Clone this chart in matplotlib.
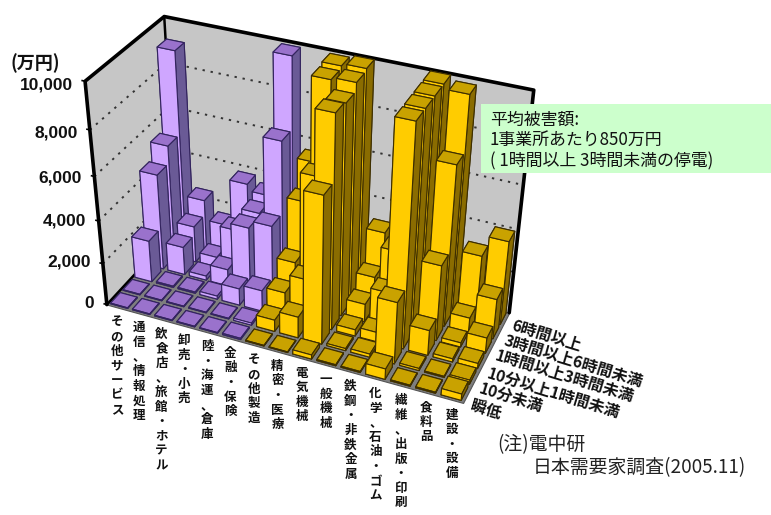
import numpy as np
import matplotlib
matplotlib.use('Agg')
import matplotlib.pyplot as plt
from matplotlib.patches import Rectangle
from mpl_toolkits.mplot3d import proj3d
from mpl_toolkits.mplot3d.art3d import Poly3DCollection

W, H = 771, 515
JP = ['Noto Sans CJK JP', 'DejaVu Sans']
plt.rcParams['font.family'] = JP

categories = ['その他サービス', '通信、情報処理', '飲食店、旅館・ホテル', '卸売・小売', '陸・海運、倉庫',
              '金融・保険', 'その他製造', '精密・医療', '電気機械', '一般機械',
              '鉄鋼・非鉄金属', '化学、石油・ゴム', '繊維、出版・印刷', '食料品', '建設・設備']
durations = ['瞬低', '10分未満', '10分以上1時間未満', '1時間以上3時間未満', '3時間以上6時間未満', '6時間以上']

# 万円, one list per outage duration, front row to back row
v_dip = [30, 30, 30, 30, 30, 60, 30, 30, 200, 50, 50, 500, 50, 50, 300]
v_10m = [30, 30, 30, 30, 30, 100, 550, 1000, 6800, 100, 150, 2900, 100, 50, 200]
v_1h = [2000, 60, 60, 150, 800, 1000, 1200, 2100, 9650, 300, 450, 10000, 1200, 150, 250]
v_3h = [4550, 1350, 200, 800, 3100, 3450, 2000, 6200, 9550, 850, 1700, 10000, 3550, 200, 750]
v_6h = [5350, 1750, 500, 2100, 3200, 6750, 4250, 9800, 9900, 1500, 3000, 10000, 7400, 700, 1900]
v_long = [9100, 2450, 1500, 3750, 3450, 9900, 5500, 9900, 10000, 3000, 1500, 10000, 9800, 3000, 3950]
rows = [v_dip, v_10m, v_1h, v_3h, v_6h, v_long]

yticks = [0, 2000, 4000, 6000, 8000, 10000]
n_purple = 6

# bar3d face order: bottom, top, front, back, left, right
purple = ['#6a5a96', '#9a72cc', '#cfa6ff', '#6a5a96', '#6a5a96', '#6a5a96']
yellow = ['#8a6c00', '#c9a200', '#ffcc00', '#8a6c00', '#8a6c00', '#8a6c00']

# box corners in the picture (pixels), used to fit the camera
box3d = np.array([[0, 0, 0], [15, 0, 0], [15, 6, 0], [0, 6, 0],
                  [0, 0, 1], [0, 6, 1], [15, 6, 1]], float)
box2d = np.array([[107, 302], [463, 405], [510, 310], [176, 232],
                  [85, 82], [165, 15], [533, 91]], float)


def fit_camera(xl, yl):
    a = []
    for (x, y, z), (u, v) in zip(box3d / [15, 6, 1], box2d):
        u = xl[0] + u / W * (xl[1] - xl[0])
        v = yl[1] - v / H * (yl[1] - yl[0])
        a.append([x, y, z, 1, 0, 0, 0, 0, -u * x, -u * y, -u * z, -u])
        a.append([0, 0, 0, 0, x, y, z, 1, -v * x, -v * y, -v * z, -v])
    p = np.linalg.svd(np.array(a))[2][-1].reshape(3, 4)
    p = p @ np.diag([1 / 15, 1 / 6, 1 / 10000, 1])
    if p[2] @ [7.5, 3, 0, 1] < 0:
        p = -p
    p = p / (p[2] @ [7.5, 3, 0, 1])
    return np.array([p[0], p[1], [0, 0, 0, -1], p[2]])


fig = plt.figure(figsize=(W / 100, H / 100), dpi=100)
ax = fig.add_axes([0, 0, 1, 1], projection='3d', computed_zorder=False)
ax.set_axis_off()
ax.apply_aspect = lambda position=None: None
M = fit_camera(ax.viewLim.intervalx, ax.viewLim.intervaly)
ax.get_proj = lambda: M

# walls and floor
top = yticks[-1]
walls = [[(0, 0, 0), (0, 6, 0), (0, 6, top), (0, 0, top)],
         [(0, 6, 0), (15, 6, 0), (15, 6, top), (0, 6, top)]]
ax.add_collection3d(Poly3DCollection(walls, facecolors='#c6c6c6', edgecolors='none', zorder=0.1))
floor = [[(0, 0, 0), (15, 0, 0), (15, 6, 0), (0, 6, 0)]]
ax.add_collection3d(Poly3DCollection(floor, facecolors='#7e7e7e', edgecolors='#555555',
                                     linewidths=0.8, zorder=0.2))

for t in yticks[1:-1]:
    ax.plot([0, 0, 15], [0, 6, 6], [t, t, t], color='#333333', ls=(0, (1.2, 3)), lw=1.4, zorder=0.5)

for xs, ys, zs, lw in [([0, 0, 0, 15, 15], [0, 0, 6, 6, 6], [0, top, top, top, 0], 2.6),
                       ([0, 0], [6, 6], [top, 0], 1.8),
                       ([0, 0], [0, 6], [0, 0], 1.8)]:
    ax.plot(xs, ys, zs, color='black', lw=lw, zorder=0.6, solid_capstyle='round')
for t in yticks:
    ax.plot([-0.12, 0], [0, 0], [t, t], color='black', lw=1.2, zorder=0.6)

# bars, back row first and left to right so nearer ones paint over
for r in range(len(rows) - 1, -1, -1):
    for c, val in enumerate(rows[r]):
        cols = purple if c < n_purple else yellow
        edge = '#33245e' if c < n_purple else '#3d2e00'
        ax.bar3d(c + 0.11, r + 0.11, 0, 0.78, 0.78, val, color=cols, shade=False,
                 edgecolor=edge, linewidth=0.8, zorder=1)

# stacked labels hang under the front edge of the floor
for i, name in enumerate(categories):
    px, py, _ = proj3d.proj_transform(i + 0.72, -0.45, 0, M)
    ax.text2D(px, py, '\n'.join(name), transform=ax.transData, ha='center', va='top', fontsize=9,
              fontweight='bold', linespacing=1.16, color='#111111', zorder=3)


def put(x, y, s, **kw):
    return fig.text(x / W, 1 - y / H, s, **kw)


tick_pos = [(94, 303), (91, 262), (86, 221), (82, 178), (78, 133), (73, 85)]
for (x, y), t in zip(tick_pos, yticks):
    put(x, y, f'{t:,}', ha='right', va='center', fontsize=12.5, fontweight='bold',
        family='Liberation Sans', color='#111111')

put(10, 63, '(万円)', ha='left', va='center', fontsize=13, fontweight='bold', color='#111111')

depth_pos = [(471, 405), (480, 388), (488, 373), (496, 355), (504, 340), (512, 325)]
for (x, y), name in zip(depth_pos, durations):
    put(x, y, name, ha='left', va='center', rotation=-17, rotation_mode='anchor', fontsize=11.3,
        fontweight='bold', color='#111111')

fig.add_artist(Rectangle((481 / W, 1 - 173 / H), 290 / W, 69 / H, transform=fig.transFigure,
                         facecolor='#ccffcc', edgecolor='none'))
for y, s in [(120, '平均被害額:'), (140, '1事業所あたり850万円'), (161, '( 1時間以上 3時間未満の停電)')]:
    put(490, y, s, ha='left', va='center', fontsize=12.2, color='#111111')

put(497, 445, '(注)電中研', ha='left', va='center', fontsize=13.6, color='#222222')
put(533, 468, '日本需要家調査(2005.11)', ha='left', va='center', fontsize=13.6, color='#222222')

fig.savefig('out.png', dpi=100)
